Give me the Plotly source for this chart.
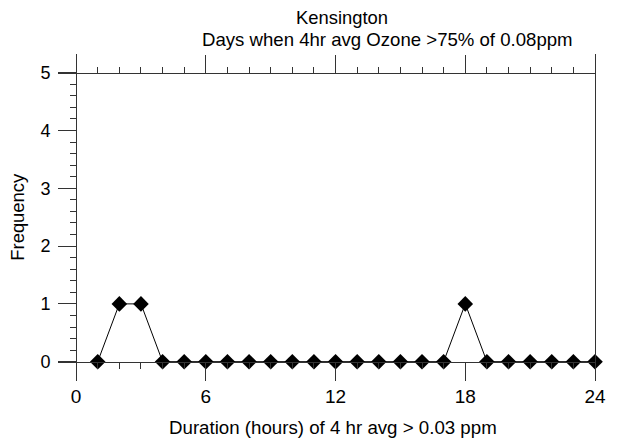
import numpy as np
import plotly.graph_objects as go

# ---- data ----
duration_hours = list(range(1, 25))
frequency = [0, 1, 1, 0, 0, 0, 0, 0, 0, 0, 0, 0,
             0, 0, 0, 0, 0, 1, 0, 0, 0, 0, 0, 0]
x_major_ticks = [0, 6, 12, 18, 24]
y_major_ticks = [0, 1, 2, 3, 4, 5]

title_1 = "Kensington"
title_2 = "Days when 4hr avg Ozone >75% of 0.08ppm"
x_title = "Duration (hours) of 4 hr avg > 0.03 ppm"
y_title = "Frequency"

# ---- layout geometry ----
W, H = 618, 441
ML, MR, MT, MB = 58, 14, 54, 61
x_range = [-0.837, 24]
y_range = [-0.317, 5.324]
plot_w = W - ML - MR
plot_h = H - MT - MB

def xfrac(v):
    return (v - x_range[0]) / (x_range[1] - x_range[0])

def yfrac(v):
    return (v - y_range[0]) / (y_range[1] - y_range[0])

def px_x(p):
    return (p - ML) / plot_w

def px_y(p):
    return (H - MB - p) / plot_h

FONT = "Arial, Liberation Sans, sans-serif"
AX = "#333333"

x_minor = [v for v in range(1, 24) if v not in x_major_ticks]
y_minor = [round(v, 1) for v in np.arange(0.2, 5.0, 0.2) if abs(v - round(v)) > 1e-6]

fig = go.Figure()
fig.add_trace(go.Scatter(
    x=duration_hours, y=frequency, mode="lines+markers",
    line=dict(color="black", width=1),
    marker=dict(symbol="diamond", size=12, color="black"),
    cliponaxis=False, showlegend=False, hoverinfo="x+y",
))
# invisible companion trace to instantiate the frame axes
fig.add_trace(go.Scatter(
    x=duration_hours, y=frequency, xaxis="x2", yaxis="y2", mode="markers",
    marker=dict(opacity=0), showlegend=False, hoverinfo="skip",
))

common = dict(showgrid=False, zeroline=False, showline=True, linecolor=AX,
              linewidth=1, ticks="outside", tickcolor=AX, tickwidth=1)

fig.update_layout(
    width=W, height=H,
    margin=dict(l=ML, r=MR, t=MT, b=MB, pad=0),
    paper_bgcolor="white", plot_bgcolor="white",
    font=dict(family=FONT, size=17, color="black"),
    xaxis=dict(range=x_range, domain=[0, 1], anchor="free", position=yfrac(0),
               side="bottom", tickmode="array", tickvals=x_major_ticks,
               ticklen=18, tickfont=dict(size=19),
               minor=dict(tickmode="array", tickvals=x_minor, ticks="outside",
                          ticklen=6, tickcolor=AX, tickwidth=1),
               **common),
    xaxis2=dict(range=x_range, overlaying="x", matches="x", anchor="free",
                position=yfrac(5), side="top", tickmode="array",
                tickvals=x_major_ticks, ticklen=18, showticklabels=False,
                minor=dict(tickmode="array", tickvals=x_minor, ticks="outside",
                           ticklen=6, tickcolor=AX, tickwidth=1),
                **common),
    yaxis=dict(range=y_range, domain=[0, 1], anchor="free", position=xfrac(0),
               side="left", tickmode="array", tickvals=y_major_ticks,
               ticklen=18, tickfont=dict(size=18), ticklabelstandoff=4,
               minor=dict(tickmode="array", tickvals=y_minor, ticks="outside",
                          ticklen=6, tickcolor=AX, tickwidth=1),
               **common),
    yaxis2=dict(range=y_range, overlaying="y", matches="y", anchor="free",
                position=1, side="right", showgrid=False, zeroline=False,
                showline=True, linecolor=AX, linewidth=1, ticks="",
                showticklabels=False),
    annotations=[
        dict(text=title_1, xref="paper", yref="paper", x=px_x(347), y=px_y(18),
             xanchor="center", yanchor="middle", showarrow=False,
             font=dict(size=18.4)),
        dict(text=title_2, xref="paper", yref="paper", x=px_x(393), y=px_y(39),
             xanchor="center", yanchor="middle", showarrow=False,
             font=dict(size=18.6)),
        dict(text=y_title, xref="paper", yref="paper", x=px_x(16), y=px_y(217),
             xanchor="center", yanchor="middle", showarrow=False,
             textangle=-90, font=dict(size=18.4)),
        dict(text=x_title, xref="paper", yref="paper", x=px_x(338), y=px_y(427),
             xanchor="center", yanchor="middle", showarrow=False,
             font=dict(size=18.7)),
    ],
)

fig.write_html("out.html", config={"displayModeBar": False},
               post_script="document.body.style.margin='0px';")
